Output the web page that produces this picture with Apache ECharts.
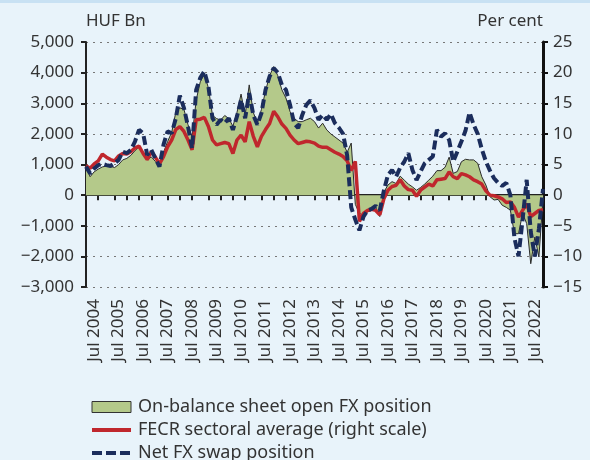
<!DOCTYPE html>
<html>
<head>
<meta charset="utf-8">
<script src="https://cdn.jsdelivr.net/npm/echarts@6/dist/echarts.min.js"></script>
<style>
  html, body { margin: 0; padding: 0; background: #e8f3fa; }
  #chart { width: 590px; height: 460px; }
</style>
</head>
<body>
<div id="chart"></div>
<script>
// bi-monthly observations, Mar 2004 .. Nov 2022
const openFx = [950, 600, 760, 850, 920, 950, 950, 900, 1000, 1150,
  1200, 1300, 1450, 1580, 1400, 1150, 1250, 1100, 950, 1400,
  1750, 2050, 2700, 2850, 2800, 2300, 1900, 3100, 3700, 3950,
  3500, 2600, 2500, 2450, 2600, 2500, 2250, 2700, 3300, 2600,
  3600, 2700, 2350, 2800, 3400, 3900, 4200, 3900, 3440, 3170,
  2730, 2510, 2400, 2400, 2460, 2510, 2400, 2190, 2350, 2130,
  2000, 1900, 1800, 1700, 1400, 1700, -300, -600, -650, -550,
  -500, -400, -700, 100, 330, 440, 380, 620, 490, 360,
  270, 160, 250, 360, 490, 620, 800, 800, 910, 1240,
  710, 770, 1090, 1170, 1150, 1150, 1040, 600, 330, -50,
  -160, -140, -330, -400, -490, -1260, -1260, -600, -930, -2240,
  -1370, -2020, -100];

const fxSwap = [930, 710, 870, 980, 1020, 980, 950, 1040, 1150, 1420,
  1370, 1480, 1750, 2130, 2020, 1310, 1480, 1200, 930, 1650,
  2080, 2020, 2500, 3250, 2850, 2240, 1530, 3440, 3830, 4040,
  3550, 2510, 2300, 2460, 2350, 2510, 2130, 2570, 3110, 2510,
  3330, 2620, 2300, 2680, 3440, 3880, 4150, 4000, 3600, 3440,
  2950, 2350, 2190, 2620, 2950, 3090, 2840, 2460, 2620, 2460,
  2650, 2350, 2200, 2000, 1300, -400, -800, -1150, -700, -500,
  -450, -350, -500, 150, 660, 820, 600, 900, 1090, 1370,
  820, 490, 770, 1040, 1150, 1260, 2130, 1910, 2020, 1800,
  1090, 1420, 1750, 2100, 2700, 2300, 2000, 1500, 1100, 800,
  550, 400, 300, 400, 0, -1400, -2000, -800, 500, -1200,
  -2000, -1100, 200];

// per cent, right scale
const fecr = [4.8, 4.4, 5.1, 5.6, 6.7, 6.2, 5.8, 5.6, 6.4, 6.8,
  6.7, 7.1, 7.7, 8.0, 6.8, 5.8, 7.1, 6.2, 5.1, 6.3,
  7.9, 9.0, 10.7, 11.2, 10.4, 9.0, 7.4, 12.3, 12.4, 12.7,
  11.2, 9.0, 8.2, 8.4, 8.6, 8.4, 6.8, 9.0, 9.8, 8.7,
  12.0, 9.6, 7.9, 9.6, 10.7, 11.7, 13.7, 12.8, 11.6, 10.9,
  9.8, 9.0, 8.4, 8.6, 8.8, 8.7, 8.5, 8.0, 7.8, 7.8,
  7.4, 7.0, 6.7, 6.3, 5.6, 4.0, 5.5, -4.3, -3.0, -2.5,
  -2.3, -2.5, -3.2, -0.6, 0.8, 1.4, 1.6, 2.5, 1.5, 0.9,
  0.8, -0.2, 0.8, 1.3, 1.8, 1.5, 2.5, 2.6, 2.7, 3.8,
  3.0, 2.7, 3.5, 3.3, 3.0, 2.5, 2.2, 1.8, 0.7, 0.0,
  -0.1, -0.3, -0.6, -1.2, -1.1, -2.0, -3.6, -2.5, -1.4, -3.5,
  -3.0, -2.5, -2.4];

const monthNames = ["Jan", "Feb", "Mar", "Apr", "May", "Jun",
  "Jul", "Aug", "Sep", "Oct", "Nov", "Dec"];
const categories = [];
for (let i = 0; i < openFx.length; i++) {
  const m = 2 + 2 * i;
  categories.push(monthNames[m % 12] + " " + (2004 + Math.floor(m / 12)));
}

const seriesNames = [
  "On-balance sheet open FX position",
  "FECR sectoral average (right scale)",
  "Net FX swap position",
];

// small ticks on the zero line, a bit more than every 3rd observation
const tickIdx = new Set();
for (let k = 1; k <= 34; k++) tickIdx.add(Math.round(k * 3.28));

const fmt = (v) => {
  const s = String(Math.abs(v)).replace(/\B(?=(\d{3})+(?!\d))/g, ",");
  return (v < 0 ? "\u2212" : "") + s;
};

const font = "'Noto Sans', sans-serif";
const textColor = "#333";
const green = "#b4c98a";
const red = "#c0272d";
const navy = "#1b2d5c";

const myChart = echarts.init(document.getElementById("chart"));
myChart.setOption({
  animation: false,
  backgroundColor: "#e8f3fa",
  textStyle: { fontFamily: font },
  graphic: [{
    type: "rect",
    left: 0, top: 0,
    shape: { width: 590, height: 3 },
    style: { fill: "#c8e1f3" },
  }],
  grid: { left: 86, right: 47, top: 42, bottom: 173 },
  legend: {
    orient: "vertical",
    left: 85,
    top: 393,
    height: 120,
    itemWidth: 39,
    itemHeight: 11,
    itemGap: 5,
    textStyle: { fontSize: 18, color: textColor, fontFamily: font, padding: [0, 0, 0, 2] },
    data: [
      { name: seriesNames[0], icon: "rect",
        itemStyle: { color: green, borderColor: "#333", borderWidth: 1 } },
      { name: seriesNames[1], itemStyle: { opacity: 0 },
        lineStyle: { color: red, width: 4 } },
      { name: seriesNames[2], itemStyle: { opacity: 0 },
        lineStyle: { color: navy, width: 4, type: [10, 4] } },
    ],
  },
  xAxis: [
    {
      type: "category",
      data: categories,
      boundaryGap: false,
      axisLine: { onZero: true, onZeroAxisIndex: 0, lineStyle: { color: "#222", width: 2 } },
      axisTick: {
        interval: (i) => tickIdx.has(i),
        length: 5,
        lineStyle: { color: "#222", width: 2 },
      },
      axisLabel: { show: false },
      splitLine: { show: false },
    },
    {
      type: "category",
      data: categories,
      boundaryGap: false,
      position: "bottom",
      axisLine: { show: false, onZero: false },
      axisTick: { show: false },
      axisLabel: {
        interval: (i, v) => v.indexOf("Jul") === 0,
        rotate: 90,
        fontSize: 17,
        color: textColor,
        margin: 12,
      },
      splitLine: { show: false },
    },
  ],
  yAxis: [
    {
      type: "value",
      min: -3000,
      max: 5000,
      interval: 1000,
      position: "left",
      name: "HUF Bn",
      nameLocation: "end",
      nameGap: 12,
      nameTextStyle: { align: "left", fontSize: 17, color: textColor },
      axisLine: { show: true, lineStyle: { color: "#222", width: 2 } },
      axisTick: { show: true, length: 5, lineStyle: { color: "#222", width: 2 } },
      axisLabel: { fontSize: 17, color: textColor, margin: 12, formatter: fmt },
      splitLine: { lineStyle: { color: "#777", type: [2, 5], width: 1 } },
    },
    {
      type: "value",
      min: -15,
      max: 25,
      interval: 5,
      position: "right",
      name: "Per cent",
      nameLocation: "end",
      nameGap: 12,
      nameTextStyle: { align: "right", fontSize: 17, color: textColor },
      axisLine: { show: true, lineStyle: { color: "#111", width: 3 } },
      axisTick: { show: true, length: 5, lineStyle: { color: "#111", width: 2 } },
      axisLabel: { fontSize: 17, color: textColor, margin: 10, formatter: fmt },
      splitLine: { show: false },
    },
  ],
  series: [
    {
      name: seriesNames[0],
      type: "line",
      data: openFx,
      symbol: "none",
      lineStyle: { color: "#2b2b2b", width: 1 },
      itemStyle: { color: green },
      areaStyle: { color: green, opacity: 1 },
    },
    {
      name: seriesNames[1],
      type: "line",
      yAxisIndex: 1,
      data: fecr,
      symbol: "none",
      lineStyle: { color: red, width: 3.5 },
      itemStyle: { color: red },
    },
    {
      name: seriesNames[2],
      type: "line",
      data: fxSwap,
      symbol: "none",
      lineStyle: { color: navy, width: 4, type: [9, 4] },
      itemStyle: { color: navy },
    },
  ],
});
</script>
</body>
</html>
